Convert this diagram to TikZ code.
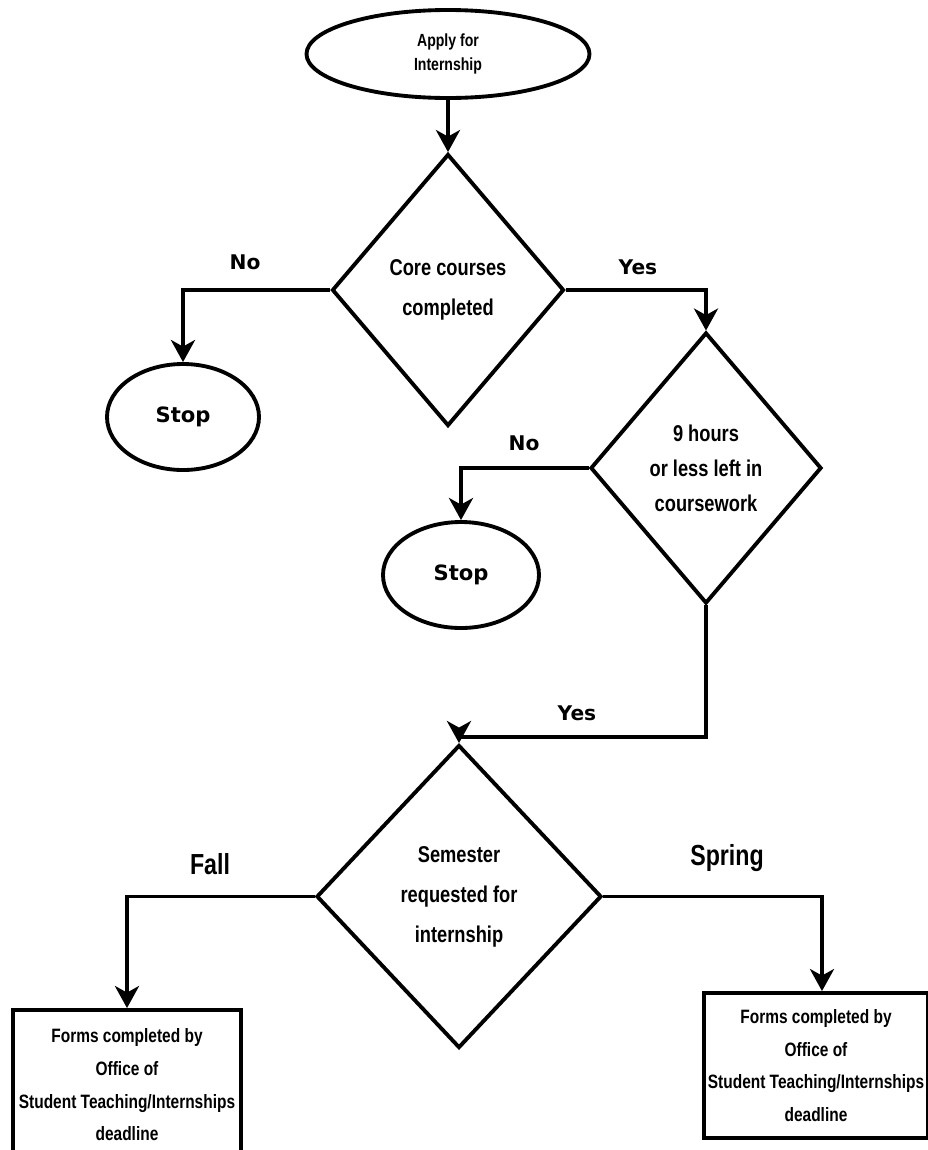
\documentclass[tikz,border=0pt]{standalone}
\usepackage{fontspec}
\setmainfont{Liberation Sans}
\newfontfamily\narrowfont[FakeStretch=0.8]{Liberation Sans}
\newfontfamily\widefont{DejaVu Sans}
\usetikzlibrary{shapes.geometric, arrows.meta}

\begin{document}
\begin{tikzpicture}[
	line width=2.2pt,
	>={Stealth[length=0.44cm,width=0.48cm,inset=0.13cm]},
	decision/.style={diamond, draw, inner sep=0pt, align=center, font=\narrowfont\bfseries\fontsize{13}{22.8}\selectfont},
	terminal/.style={ellipse, draw, inner sep=0pt},
	stopnode/.style={terminal, font=\widefont\bfseries\fontsize{12}{14}\selectfont},
	formbox/.style={rectangle, draw, inner sep=0pt, align=center, font=\narrowfont\bfseries\fontsize{11}{18.6}\selectfont},
	answer/.style={font=\widefont\bfseries\fontsize{11.5}{14}\selectfont},
	term/.style={font=\narrowfont\bfseries\fontsize{16.5}{20}\selectfont}
	]
	\path[use as bounding box, clip] (0,0) rectangle (18.56,-23);
	
	\node (apply) at (8.96,-1.08) [terminal, minimum width=5.66cm, minimum height=1.76cm, align=center, font=\narrowfont\bfseries\fontsize{10}{14}\selectfont] {Apply for\\Internship};
	\node (core) at (8.96,-5.8) [decision, minimum width=4.64cm, minimum height=5.44cm] {Core courses\\completed};
	\node (stopA) at (3.66,-8.34) [stopnode, minimum width=3.04cm, minimum height=2.12cm] {Stop};
	\node (hours) at (14.12,-9.36) [decision, minimum width=4.62cm, minimum height=5.42cm, font=\narrowfont\bfseries\fontsize{13}{20}\selectfont] {9 hours\\or less left in\\coursework};
	\node (stopB) at (9.22,-11.5) [stopnode, minimum width=3.12cm, minimum height=2.12cm] {Stop};
	\node (semester) at (9.18,-17.93) [decision, minimum width=5.7cm, minimum height=6.06cm] {Semester\\requested for\\internship};
	\node (formsA) at (2.54,-21.7) [formbox, minimum width=4.56cm, minimum height=3.0cm] {Forms completed by\\Office of\\Student Teaching/Internships\\deadline};
	\node (formsB) at (16.32,-21.31) [formbox, minimum width=4.48cm, minimum height=2.9cm] {Forms completed by\\Office of\\Student Teaching/Internships\\deadline};
	
	% branch labels
	\node (noA) at (4.9,-5.24) [answer] {No};
	\node (yesA) at (12.76,-5.34) [answer] {Yes};
	\node (noB) at (10.48,-8.86) [answer] {No};
	\node (yesB) at (11.54,-14.26) [answer] {Yes};
	\node (fall) at (4.2,-17.28) [term] {Fall};
	\node (spring) at (14.54,-17.16) [term] {Spring};
	
	\draw[->] (apply.south) -- (core.north);
	\draw[->] (core.west) -| (stopA.north);
	\draw[->] (core.east) -| (hours.north);
	\draw[->] (hours.west) -| (stopB.north);
	\draw[->] (hours.south) -- ++(0,-2.63) -| (semester.north);
	\draw[->] (semester.west) -| (formsA.north);
	\draw[->] (semester.east) -| ([xshift=0.12cm]formsB.north);
	
\end{tikzpicture}
\end{document}
